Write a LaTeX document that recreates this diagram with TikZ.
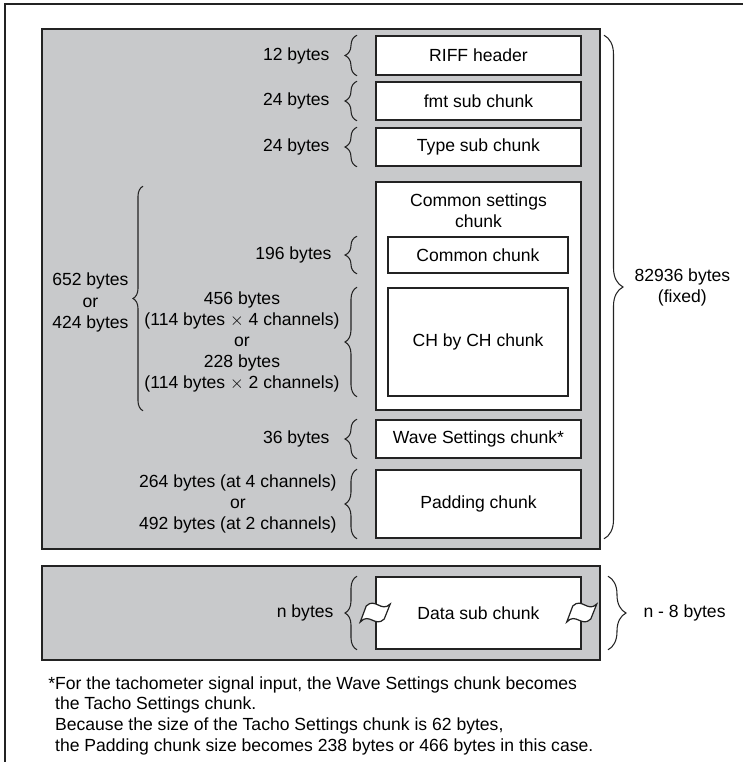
\documentclass[tikz,border=0pt]{standalone}
\usepackage{fontspec}
\setmainfont{Liberation Sans}
\usepackage{xcolor}
\definecolor{panelgray}{RGB}{200, 201, 203}
\definecolor{inkdark}{RGB}{35, 35, 35}
\usetikzlibrary{calc,positioning,decorations.pathreplacing}

\begin{document}
\begin{tikzpicture}[x=0.02cm, y=-0.02cm,
    panel/.style={draw=inkdark, line width=1pt, fill=panelgray, inner sep=0pt, minimum width=11.16cm},
    chunk/.style={draw=inkdark, line width=0.9pt, fill=white, inner sep=0pt, minimum width=4.1cm, align=center},
    subchunk/.style={chunk, minimum width=3.6cm},
    brc/.style={draw=inkdark, line width=0.6pt, decorate, decoration={brace, amplitude=#1}},
    brc/.default=0.24cm,
    lbl/.style={inner sep=0pt, align=center, anchor=east},
    rlbl/.style={inner sep=0pt, align=center, anchor=west},
    breakmark/.pic={
        \path[draw=inkdark, line width=0.7pt, fill=white]
            (-9,-7) .. controls (0,-16) and (6,0) .. (15,-9)
            -- (9,6) .. controls (0,15) and (-6,-1) .. (-15,9) -- cycle;
    }]
    \useasboundingbox (0,0) rectangle (743,762);

    % Outer frame
    \draw[inkdark, line width=1pt] (5,780) -- (5,4) -- (760,4);

    % Gray panels
    \node[panel, minimum height=10.4cm] (hdrpanel) at (321,289) {};
    \node[panel, minimum height=1.88cm] (datapanel) at (321,613) {};

    % Header chunks
    \node[chunk, minimum height=0.78cm] (riff) at (478.5,55.5) {RIFF header};
    \node[chunk, minimum height=0.76cm] (fmt) at (478.5,101) {fmt sub chunk};
    \node[chunk, minimum height=0.76cm] (type) at (478.5,147) {Type sub chunk};
    \node[chunk, minimum height=4.56cm] (common) at (478.5,296) {};
    \node[inner sep=0pt, align=center] (cstitle) at (478.5,211) {Common settings\\chunk};
    \node[subchunk, minimum height=0.72cm] (cmnchunk) at (478,255) {Common chunk};
    \node[subchunk, minimum height=2.16cm] (chchunk) at (478,342) {CH by CH chunk};
    \node[chunk, minimum height=0.76cm] (wave) at (478.5,439) {Wave Settings chunk*};
    \node[chunk, minimum height=1.36cm] (pad) at (478.5,504) {Padding chunk};

    % Data chunk
    \node[chunk, minimum height=1.44cm] (datachunk) at (478.5,613) {Data sub chunk};
    \pic at (datachunk.west) {breakmark};
    \pic at (datachunk.east) {breakmark};

    % Size braces
    \coordinate (bx) at (357,0);
    \draw[brc] (bx |- riff.south) -- (bx |- riff.north)
        node[lbl, midway, xshift=-0.54cm] (l12) {12 bytes};
    \draw[brc] (bx |- fmt.south) -- (bx |- fmt.north)
        node[lbl, midway, xshift=-0.54cm] (lfmt) {24 bytes};
    \draw[brc] (bx |- type.south) -- (bx |- type.north)
        node[lbl, midway, xshift=-0.54cm] (ltype) {24 bytes};
    \draw[brc] (bx |- cmnchunk.south) -- (bx |- cmnchunk.north)
        node[lbl, midway, xshift=-0.5cm] (lcmn) {196 bytes};
    \draw[brc] (bx |- chchunk.south) -- (bx |- chchunk.north)
        node[lbl, midway, xshift=-0.34cm] (lch) {456 bytes\\(114 bytes $\times$ 4 channels)\\or\\228 bytes\\(114 bytes $\times$ 2 channels)};
    \draw[brc] (bx |- wave.south) -- (bx |- wave.north)
        node[lbl, midway, xshift=-0.54cm] (lwave) {36 bytes};
    \draw[brc] (bx |- pad.south) -- (bx |- pad.north)
        node[lbl, midway, xshift=-0.4cm] (lpad) {264 bytes (at 4 channels)\\or\\492 bytes (at 2 channels)};
    \draw[brc] (bx |- datachunk.south) -- (bx |- datachunk.north)
        node[lbl, midway, xshift=-0.46cm] (ln) {n bytes};

    % Common settings total
    \coordinate (bxl) at (143,0);
    \draw[brc=0.2cm] (bxl |- common.south) -- ($(bxl |- common.north)+(0,5)$)
        node[lbl, midway, xshift=-0.28cm, yshift=-0.08cm] (lcs) {652 bytes\\or\\424 bytes};

    % Totals on the right
    \coordinate (bxr) at (604,0);
    \draw[brc=0.38cm] (bxr |- riff.north) -- (bxr |- pad.south)
        node[rlbl, midway, xshift=0.6cm] (ltotal) {82936 bytes\\(fixed)};
    \coordinate (bxd) at (608,0);
    \draw[brc=0.36cm] (bxd |- datachunk.north) -- (bxd |- datachunk.south)
        node[rlbl, midway, xshift=0.7cm] (ldata) {n - 8 bytes};

    % Footnote
    \node[anchor=north west, align=left, inner sep=0pt, font=\fontsize{10}{11.8}\selectfont] (fnote) at (48,676)
        {*For the tachometer signal input, the Wave Settings chunk becomes\\
         \phantom{*}the Tacho Settings chunk.\\
         \phantom{*}Because the size of the Tacho Settings chunk is 62 bytes,\\
         \phantom{*}the Padding chunk size becomes 238 bytes or 466 bytes in this case.};
\end{tikzpicture}
\end{document}
